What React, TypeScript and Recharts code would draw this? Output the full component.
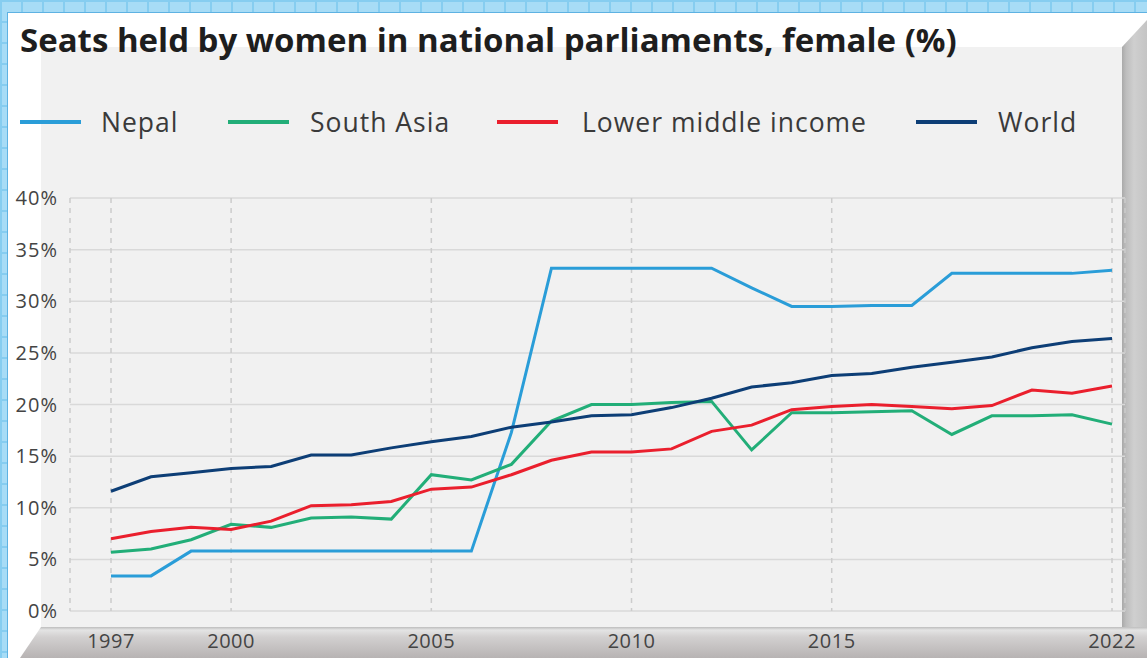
import React from 'react';
import { LineChart, Line, XAxis, YAxis, CartesianGrid } from 'recharts';

const years = [1997, 1998, 1999, 2000, 2001, 2002, 2003, 2004, 2005, 2006, 2007, 2008, 2009, 2010, 2011, 2012, 2013, 2014, 2015, 2016, 2017, 2018, 2019, 2020, 2021, 2022];
const nepal = [3.4, 3.4, 5.8, 5.8, 5.8, 5.8, 5.8, 5.8, 5.8, 5.8, 17.3, 33.2, 33.2, 33.2, 33.2, 33.2, 31.3, 29.5, 29.5, 29.6, 29.6, 32.7, 32.7, 32.7, 32.7, 33.0];
const southAsia = [5.7, 6.0, 6.9, 8.4, 8.1, 9.0, 9.1, 8.9, 13.2, 12.7, 14.2, 18.4, 20.0, 20.0, 20.2, 20.3, 15.6, 19.2, 19.2, 19.3, 19.4, 17.1, 18.9, 18.9, 19.0, 18.1];
const lowerMiddle = [7.0, 7.7, 8.1, 7.9, 8.7, 10.2, 10.3, 10.6, 11.8, 12.0, 13.2, 14.6, 15.4, 15.4, 15.7, 17.4, 18.0, 19.5, 19.8, 20.0, 19.8, 19.6, 19.9, 21.4, 21.1, 21.8];
const world = [11.6, 13.0, 13.4, 13.8, 14.0, 15.1, 15.1, 15.8, 16.4, 16.9, 17.8, 18.3, 18.9, 19.0, 19.7, 20.6, 21.7, 22.1, 22.8, 23.0, 23.6, 24.1, 24.6, 25.5, 26.1, 26.4];

const xTicks = [1997, 2000, 2005, 2010, 2015, 2022];
const yTicks = [0, 5, 10, 15, 20, 25, 30, 35, 40];

const seriesNames = ['Nepal', 'South Asia', 'Lower middle income', 'World'];
const seriesKeys = ['nepal', 'southAsia', 'lowerMiddle', 'world'];
const seriesColors = ['#2a9dd8', '#22ae78', '#ea1f2d', '#0d3e76'];
const legendLefts = [20, 228, 497, 916];
const legendTextOffsets = [81, 82, 85, 82];

const data = years.map((y, i) => ({
  year: y,
  nepal: nepal[i],
  southAsia: southAsia[i],
  lowerMiddle: lowerMiddle[i],
  world: world[i],
}));

const FONT = '"Open Sans", "Noto Sans", sans-serif';

export default function App() {
  return (
    <div style={{ position: 'absolute', left: 0, top: 0, width: 1147, height: 658, overflow: 'hidden', fontFamily: FONT }}>
      {/* blue tiled background */}
      <div
        style={{
          position: 'absolute', left: 0, top: 0, width: 1147, height: 658,
          backgroundColor: '#a7dcf6',
          backgroundImage:
            'linear-gradient(to right, #86cdf0 2px, transparent 2px), linear-gradient(to bottom, #86cdf0 2px, transparent 2px)',
          backgroundSize: '21px 21px',
        }}
      />
      {/* white card */}
      <div
        style={{
          position: 'absolute', left: 7, top: 12, width: 1140, height: 646,
          background: '#ffffff', borderTop: '1px solid #5eb2e2', borderLeft: '1px solid #5eb2e2',
        }}
      />
      {/* gray panel */}
      <div style={{ position: 'absolute', left: 41, top: 47, width: 1081, height: 581, background: '#f1f1f1' }} />
      {/* right bevel */}
      <div
        style={{
          position: 'absolute', left: 1122, top: 20, width: 25, height: 638,
          background: 'linear-gradient(to right, #a9a9a9 0px, #bdbdbd 4px, #cfcfcf 12px, #c4c4c4 25px)',
          clipPath: 'polygon(0 27px, 25px 0, 25px 100%, 0 100%)',
        }}
      />
      {/* bottom bevel */}
      <div
        style={{
          position: 'absolute', left: 20, top: 627, width: 1127, height: 31,
          background: 'linear-gradient(to bottom, #bdbdbd 0px, #e4e4e4 3px, #d2d0d0 10px, #b7b3b3 31px)',
          clipPath: 'polygon(21px 0, 100% 0, 100% 100%, 0 100%)',
        }}
      />
      {/* title */}
      <div
        style={{
          position: 'absolute', left: 20, top: 24, lineHeight: '32px', fontSize: 33, fontWeight: 700,
          color: '#1e1e1e', whiteSpace: 'nowrap',
        }}
      >
        Seats held by women in national parliaments, female (%)
      </div>
      {/* legend */}
      {seriesNames.map((name, i) => (
        <div key={name} style={{ position: 'absolute', left: legendLefts[i], top: 109, height: 27, whiteSpace: 'nowrap' }}>
          <div style={{ position: 'absolute', left: 0, top: 11, width: 61, height: 4, background: seriesColors[i] }} />
          <div
            style={{
              position: 'absolute', left: legendTextOffsets[i], top: 0, fontSize: 26.5, lineHeight: '26.5px',
              letterSpacing: 1, color: '#3a3a3a',
            }}
          >
            {name}
          </div>
        </div>
      ))}
      {/* chart */}
      <div style={{ position: 'absolute', left: 0, top: 0 }}>
        <LineChart width={1147} height={658} data={data} margin={{ top: 198, right: 22, bottom: 17, left: 0 }}>
          <CartesianGrid vertical={false} stroke="#d9d9d9" strokeWidth={1.5} />
          <CartesianGrid horizontal={false} stroke="#cccccc" strokeWidth={1.5} strokeDasharray="5 5" />
          <XAxis
            dataKey="year"
            type="number"
            domain={[1997, 2022]}
            ticks={xTicks}
            padding={{ left: 41, right: 13 }}
            axisLine={false}
            tickLine={false}
            tickSize={0}
            tickMargin={23}
            height={30}
            interval={0}
            tick={{ fill: '#444444', fontSize: 20, fontFamily: FONT, letterSpacing: 0.5 }}
          />
          <YAxis
            type="number"
            domain={[0, 40]}
            ticks={yTicks}
            width={70}
            axisLine={false}
            tickLine={false}
            tickSize={0}
            tickMargin={12}
            interval={0}
            tickFormatter={(v) => v + '%'}
            tick={{ fill: '#444444', fontSize: 20, fontFamily: FONT, letterSpacing: 1 }}
          />
          {seriesKeys.map((k, i) => (
            <Line
              key={k}
              type="linear"
              dataKey={k}
              stroke={seriesColors[i]}
              strokeWidth={3}
              dot={false}
              activeDot={false}
              isAnimationActive={false}
            />
          ))}
        </LineChart>
      </div>
    </div>
  );
}
